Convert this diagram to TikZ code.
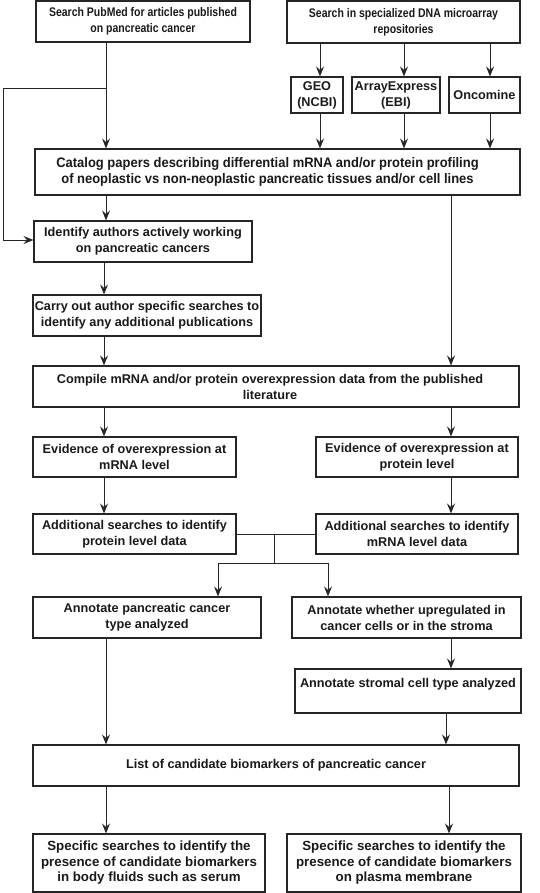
\documentclass[tikz,border=0pt]{standalone}
\usepackage{fontspec}
\setmainfont{Liberation Sans}
\newfontfamily\condA[FakeStretch=0.84]{Liberation Sans}
\newfontfamily\condB[FakeStretch=0.94]{Liberation Sans}
\usetikzlibrary{arrows.meta,calc}
\begin{document}
\begin{tikzpicture}[x=1pt,y=1pt,
  box/.style={draw=black!85, line width=1.1pt, align=center, inner sep=0pt,
    font=\bfseries\fontsize{12.7}{16}\selectfont, text=black!90},
  topf/.style={font=\condA\bfseries\fontsize{12.5}{16}\selectfont},
  catf/.style={font=\condB\bfseries\fontsize{13.8}{15.5}\selectfont},
  specf/.style={font=\bfseries\fontsize{13.3}{15.5}\selectfont},
  arr/.style={draw=black!85, line width=0.9pt, -{Stealth[length=10pt,width=8pt,inset=3.5pt]}},
  ln/.style={draw=black!85, line width=0.9pt}]
\useasboundingbox (0,0) rectangle (540,-893);
% boxes
\node[box, topf, minimum width=214, minimum height=41] (pub) at (143,-21.5) {Search PubMed for articles published\\on pancreatic cancer};
\node[box, topf, minimum width=233, minimum height=42] (dna) at (403.5,-22) {Search in specialized DNA microarray\\repositories};
\node[box, minimum width=52, minimum height=36] (geo) at (317,-95) {GEO\\(NCBI)};
\node[box, minimum width=88, minimum height=36] (ae) at (396,-95) {ArrayExpress\\(EBI)};
\node[box, minimum width=71, minimum height=36] (onc) at (484.5,-95) {Oncomine};
\node[box, catf, minimum width=485, minimum height=46] (cat) at (277.5,-172) {Catalog papers describing differential mRNA and/or protein profiling\hspace*{20pt}\\of neoplastic vs non-neoplastic pancreatic tissues and/or cell lines\hspace*{20pt}};
\node[box, minimum width=218, minimum height=41] (ident) at (143,-241.5) {Identify authors actively working\\on pancreatic cancers};
\node[box, minimum width=228, minimum height=41] (carry) at (147,-315.5) {Carry out author specific searches to\\identify any additional publications};
\node[box, minimum width=486, minimum height=41] (comp) at (276,-386.5) {Compile mRNA and/or protein overexpression data from the published\hspace*{12pt}\\literature\hspace*{12pt}};
\node[box, minimum width=203, minimum height=40] (evm) at (134.5,-457) {Evidence of overexpression at\\mRNA level};
\node[box, minimum width=202, minimum height=40] (evp) at (417,-457) {Evidence of overexpression at\\protein level};
\node[box, minimum width=203, minimum height=40] (addp) at (134.5,-534) {Additional searches to identify\\protein level data};
\node[box, minimum width=202, minimum height=40] (addm) at (417,-534) {Additional searches to identify\\mRNA level data};
\node[box, minimum width=228, minimum height=41] (annp) at (147,-617.5) {Annotate pancreatic cancer\\type analyzed};
\node[box, minimum width=229, minimum height=41] (annw) at (406.5,-617.5) {Annotate whether upregulated in\\cancer cells or in the stroma};
\node[box, minimum width=226, minimum height=44] (strom) at (408,-691) {Annotate stromal cell type analyzed\\\mbox{}};
\node[box, minimum width=486, minimum height=41] (list) at (276,-765.5) {List of candidate biomarkers of pancreatic cancer};
\node[box, specf, minimum width=232, minimum height=58] (spl) at (149,-863) {Specific searches to identify the\\presence of candidate biomarkers\\in body fluids such as serum};
\node[box, specf, minimum width=234, minimum height=58] (spr) at (404,-863) {Specific searches to identify the\\presence of candidate biomarkers\\on plasma membrane};
% column coordinates
\coordinate (cL) at (106,0);
\coordinate (cL2) at (104,0);
\coordinate (cR) at (451,0);
\coordinate (cG) at (320,0);
\coordinate (cA) at (404,0);
\coordinate (cO) at (490,0);
\coordinate (cS) at (446,0);
\coordinate (cSR) at (449,0);
\coordinate (br) at (106,-88);
\coordinate (brL) at (3,-88);
\coordinate (brD) at (3,-240);
\coordinate (jn) at (274,-534);
\coordinate (jd) at (274,-563);
\coordinate (jl) at (218,-563);
\coordinate (jr) at (328,-563);
% connectors
\draw[arr] (dna.south -| cG) -- (geo.north -| cG);
\draw[arr] (dna.south -| cA) -- (ae.north -| cA);
\draw[arr] (dna.south -| cO) -- (onc.north -| cO);
\draw[arr] (geo.south -| cG) -- (cat.north -| cG);
\draw[arr] (ae.south -| cA) -- (cat.north -| cA);
\draw[arr] (onc.south -| cO) -- (cat.north -| cO);
\draw[arr] (pub.south -| cL) -- (cat.north -| cL);
\draw[arr] (br) -- (brL) -- (brD) -- (brD -| ident.west);
\draw[arr] (cat.south -| cL) -- (ident.north -| cL);
\draw[arr] (ident.south -| cL2) -- (carry.north -| cL2);
\draw[arr] (carry.south -| cL2) -- (comp.north -| cL2);
\draw[arr] (cat.south -| cR) -- (comp.north -| cR);
\draw[arr] (comp.south -| cL2) -- (evm.north -| cL2);
\draw[arr] (comp.south -| cR) -- (evp.north -| cR);
\draw[arr] (evm.south -| cL2) -- (addp.north -| cL2);
\draw[arr] (evp.south -| cR) -- (addm.north -| cR);
\draw[ln] (addp.east) -- (addm.west);
\draw[ln] (jn) -- (jd);
\draw[arr] (jd) -- (jl) -- (annp.north -| jl);
\draw[arr] (jd) -- (jr) -- (annw.north -| jr);
\draw[arr] (annw.south -| cR) -- (strom.north -| cR);
\draw[arr] (annp.south -| cL) -- (list.north -| cL);
\draw[arr] (strom.south -| cS) -- (list.north -| cS);
\draw[arr] (list.south -| cL) -- (spl.north -| cL);
\draw[arr] (list.south -| cSR) -- (spr.north -| cSR);
\end{tikzpicture}
\end{document}
